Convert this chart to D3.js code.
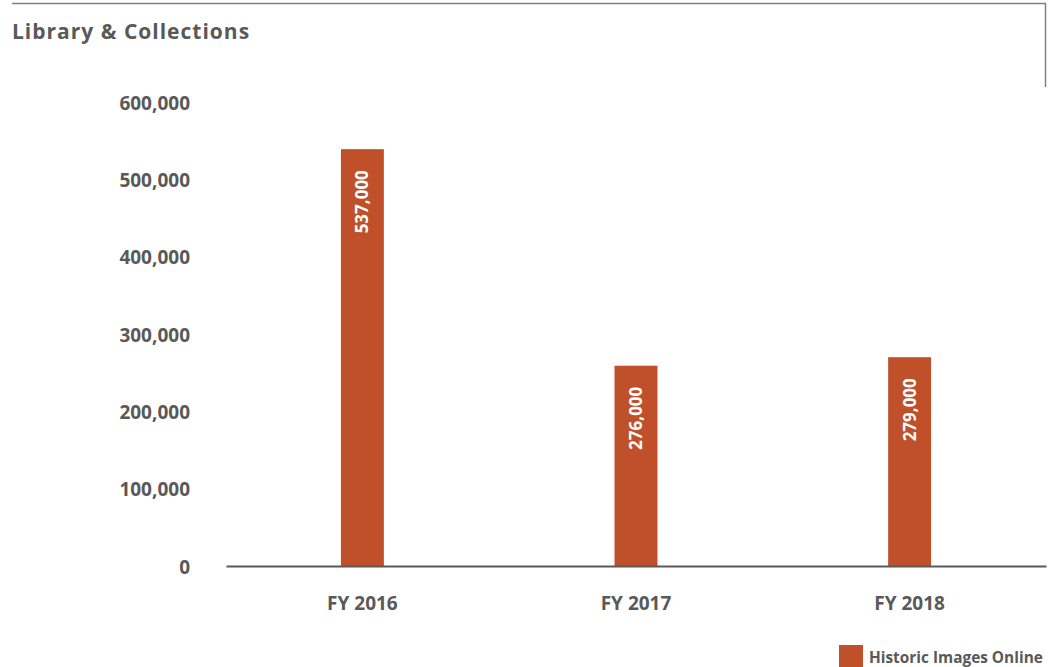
<!DOCTYPE html>
<html lang="en">
<head>
  <meta charset="UTF-8">
  <title>Library & Collections</title>
  <style>
    body { margin: 0; background: #fff; }
    svg { display: block; font-family: "Open Sans", sans-serif; font-weight: 700; }
    .y-axis text, .x-axis text { fill: #595959; }
  </style>
</head>
<body>
  <div id="chart"></div>
  <script src="https://d3js.org/d3.v7.min.js"></script>
  <script>
    // values
    const years = ['FY 2016', 'FY 2017', 'FY 2018'];
    const imagesOnline = [539000, 259000, 270000];
    const barLabels = ['537,000', '276,000', '279,000'];
    const yTicks = [0, 100000, 200000, 300000, 400000, 500000, 600000];
    const seriesName = 'Historic Images Online';

    const width = 1054;
    const height = 667;
    const margin = { top: 102, right: 8, bottom: 101, left: 226 };
    const barColor = '#C0502A';
    const textColor = '#595959';

    const svg = d3.select('#chart')
      .append('svg')
      .attr('width', width)
      .attr('height', height);

    // frame lines top and right
    svg.append('line')
      .attr('x1', 12).attr('x2', 1046)
      .attr('y1', 3.5).attr('y2', 3.5)
      .attr('stroke', '#808080').attr('stroke-width', 1.5);
    svg.append('line')
      .attr('x1', 1045.5).attr('x2', 1045.5)
      .attr('y1', 3).attr('y2', 87)
      .attr('stroke', '#808080').attr('stroke-width', 1.5);

    svg.append('text')
      .attr('x', 12)
      .attr('y', 39)
      .attr('fill', textColor)
      .style('font-size', '21px')
      .style('letter-spacing', '1px')
      .text('Library & Collections');

    const xScale = d3.scaleBand()
      .domain(years)
      .range([margin.left, width - margin.right])
      .paddingInner(0.843)
      .paddingOuter(0.42);

    const yScale = d3.scaleLinear()
      .domain([0, 600000])
      .range([height - margin.bottom, margin.top]);

    svg.append('g')
      .attr('class', 'y-axis')
      .attr('transform', `translate(${margin.left}, 0)`)
      .call(d3.axisLeft(yScale).tickValues(yTicks).tickSize(0).tickPadding(36).tickFormat(d3.format(',')))
      .call(g => g.select('.domain').remove())
      .selectAll('text')
      .attr('dy', '0.38em')
      .style('font-size', '19px')
      .style('font-family', '"Open Sans", sans-serif')
      .style('font-weight', 700);

    svg.selectAll('.bar')
      .data(imagesOnline)
      .enter()
      .append('rect')
      .attr('class', 'bar')
      .attr('x', (d, i) => xScale(years[i]))
      .attr('y', d => yScale(d))
      .attr('width', xScale.bandwidth())
      .attr('height', d => yScale(0) - yScale(d))
      .attr('fill', barColor);

    svg.selectAll('.bar-label')
      .data(imagesOnline)
      .enter()
      .append('text')
      .attr('class', 'bar-label')
      .attr('transform', (d, i) => `translate(${xScale(years[i]) + xScale.bandwidth() / 2 + 6}, ${yScale(d) + 21}) rotate(-90)`)
      .attr('text-anchor', 'end')
      .attr('fill', '#fff')
      .style('font-size', '17px')
      .text((d, i) => barLabels[i]);

    const xAxis = svg.append('g')
      .attr('class', 'x-axis')
      .attr('transform', `translate(0, ${yScale(0)})`)
      .call(d3.axisBottom(xScale).tickSize(0).tickPadding(31));
    xAxis.select('.domain')
      .attr('stroke', textColor)
      .attr('stroke-width', 2);
    xAxis.selectAll('text')
      .style('font-size', '19px')
      .style('font-family', '"Open Sans", sans-serif')
      .style('font-weight', 700);

    // legend
    const legend = svg.append('g').attr('transform', 'translate(839, 645)');
    legend.append('rect')
      .attr('width', 24).attr('height', 24)
      .attr('fill', barColor);
    legend.append('text')
      .attr('x', 30)
      .attr('y', 18)
      .attr('fill', textColor)
      .style('font-size', '15.4px')
      .text(seriesName);
  </script>
</body>
</html>
